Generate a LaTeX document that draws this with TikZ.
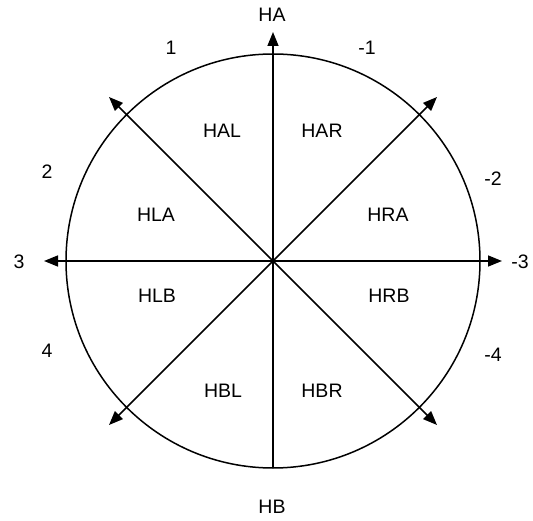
\documentclass[tikz,border=0pt]{standalone}
\usepackage{fontspec}
\setmainfont{Liberation Sans}
\usetikzlibrary{arrows.meta,calc}
\begin{document}
\begin{tikzpicture}[x=1pt,y=-1pt,
  lbl/.style={inner sep=0pt,font=\fontsize{19.5}{21}\selectfont},
  ln/.style={line width=1.5pt,black},
  tip/.style={-{Triangle[length=14pt,width=11pt]}},
  dtip/.style={{Triangle[length=14pt,width=11pt]}-{Triangle[length=14pt,width=11pt]}}]
\useasboundingbox (0,0) rectangle (533,521);
\coordinate (O) at (273,261);
\draw[ln] (O) circle (207);
% axis ends
\coordinate (T) at (273,32);
\coordinate (B) at (273,468);
\coordinate (L) at (44,261);
\coordinate (R) at (502,261);
\coordinate (TL) at ($(O)+(-164,-164)$);
\coordinate (TR) at ($(O)+(164,-164)$);
\coordinate (BL) at ($(O)+(-164,164)$);
\coordinate (BR) at ($(O)+(164,164)$);
\draw[ln,tip] (B) -- (T);
\draw[ln,dtip] (L) -- (R);
\draw[ln,dtip] (BR) -- (TL);
\draw[ln,dtip] (BL) -- (TR);
% outer labels
\node[lbl] (ha) at (272,15) {HA};
\node[lbl] (hb) at (272,507) {HB};
\node[lbl] (n1) at (171,48) {1};
\node[lbl] (m1) at (367,48) {-1};
\node[lbl] (n2) at (47,172) {2};
\node[lbl] (m2) at (493,179) {-2};
\node[lbl] (n3) at (19,262) {3};
\node[lbl] (m3) at (520,262) {-3};
\node[lbl] (n4) at (47,351) {4};
\node[lbl] (m4) at (493,355) {-4};
% inner labels
\node[lbl] (hal) at (222,131) {HAL};
\node[lbl] (har) at (322,131) {HAR};
\node[lbl] (hla) at (156,215) {HLA};
\node[lbl] (hra) at (388,215) {HRA};
\node[lbl] (hlb) at (157,296) {HLB};
\node[lbl] (hrb) at (389,296) {HRB};
\node[lbl] (hbl) at (223,391) {HBL};
\node[lbl] (hbr) at (322,391) {HBR};
\end{tikzpicture}
\end{document}
